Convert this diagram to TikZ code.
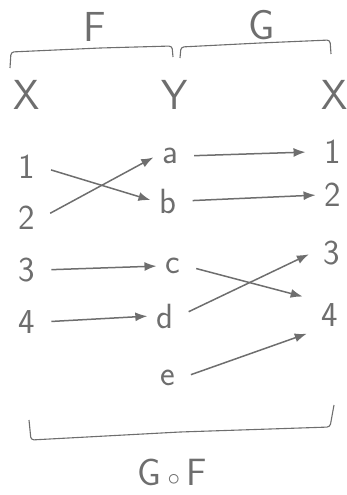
\documentclass[tikz,border=0pt]{standalone}
\usepackage{fontspec}
\usepackage{tikz}
\usetikzlibrary{arrows.meta, positioning}
\definecolor{crayon}{RGB}{110,110,110}

\tikzset{
  titre/.style={font=\sffamily\fontsize{42}{42}\selectfont, text=crayon, inner sep=4pt},
  elem/.style={font=\sffamily\fontsize{35}{35}\selectfont, text=crayon, inner sep=6pt},
  fleche/.style={-{Latex[length=12pt, width=9pt]}, crayon, line width=1.5pt,
                 shorten <=10pt, shorten >=3pt},
  accolade/.style={crayon, line width=1.1pt, rounded corners=3pt}
}

\begin{document}
\begin{tikzpicture}[x=1pt, y=-1pt]
    \useasboundingbox (0,0) rectangle (347,495);

    % Ensembles et fonctions
    \node[titre] (f) at (95,27) {F};
    \node[titre] (g) at (262,25) {G};
    \node[titre] (xg) at (27,95) {X};
    \node[titre] (y) at (175,95) {Y};
    \node[titre] (xd) at (335,95) {X};

    % Accolades du haut
    \draw[accolade] (10,68) -- (11,52) -- (100,48) -- (172,46) -- (173,57);
    \draw[accolade] (180,58) -- (181,47) -- (260,43) -- (330,40) -- (331,54);

    % Elements de X (gauche)
    \foreach \n/\y in {1/167, 2/218, 3/270, 4/322} {
      \node[elem] (g\n) at (27,\y) {\n};
    }
    % Elements de Y
    \foreach \n/\x/\y in {a/170/156, b/168/201, c/173/266, d/165/316, e/168/378} {
      \node[elem] (y\n) at (\x,\y) {\n};
    }
    % Elements de X (droite)
    \foreach \n/\x/\y in {1/333/152, 2/333/195, 3/332/253, 4/330/315} {
      \node[elem] (d\n) at (\x,\y) {\n};
    }

    % F : X -> Y
    \draw[fleche] (g1.east) -- (yb.west);
    \draw[fleche] (g2.east) -- (ya.west);
    \draw[fleche] (g3.east) -- (yc.west);
    \draw[fleche] (g4.east) -- (yd.west);

    % G : Y -> X
    \draw[fleche] (ya.east) -- ([xshift=-10pt]d1.west);
    \draw[fleche] (yb.east) -- (d2.west);
    \draw[fleche] (yc.east) -- ([xshift=-10pt]d4.north west);
    \draw[fleche] (yd.east) -- ([xshift=-6pt]d3.west);
    \draw[fleche] (ye.east) -- ([xshift=-6pt]d4.south west);

    % Accolade du bas
    \draw[accolade] (29,420) -- (31,440) -- (180,432) -- (330,427) -- (334,405);
    \node[titre, font=\sffamily\fontsize{38}{38}\selectfont] (gof) at (172,472)
      {G\,$\circ$\,F};

  \end{tikzpicture}
\end{document}
